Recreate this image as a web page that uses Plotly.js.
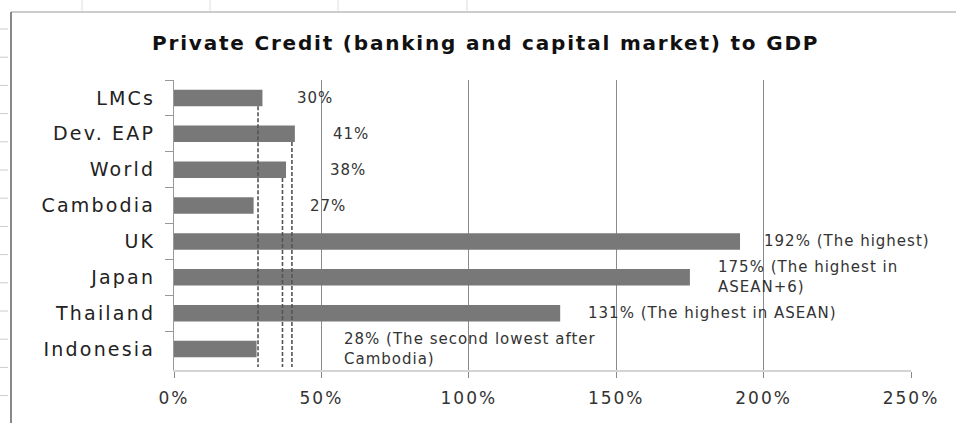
<!DOCTYPE html>
<html>
<head>
<meta charset="utf-8">
<script src="https://cdn.plot.ly/plotly-3.0.1.min.js"></script>
<style>
html,body{margin:0;padding:0;background:#fff;}
#chart{width:956px;height:423px;}
#chart .ytick text{letter-spacing:2.2px;}
#chart .xtick text{letter-spacing:2px;}
#chart .annotation-text{letter-spacing:1px;}
#chart .gtitle{letter-spacing:1.8px;}
</style>
</head>
<body>
<div id="chart"></div>
<script>
// Data
const categories = ["LMCs", "Dev. EAP", "World", "Cambodia", "UK", "Japan", "Thailand", "Indonesia"];
const values = [30, 41, 38, 27, 192, 175, 131, 28];
const labelTexts = [
  "30%",
  "41%",
  "38%",
  "27%",
  "192% (The highest)",
  "175% (The highest in<br>ASEAN+6)",
  "131% (The highest in ASEAN)",
  "28% (The second lowest after<br>Cambodia)"
];
const xTickVals = [0, 50, 100, 150, 200, 250];
const xTickText = ["0%", "50%", "100%", "150%", "200%", "250%"];
// Dashed reference lines: value and the category whose bar they start below
const refLineValues = [28.5, 36.8, 40];
const refLineStart = ["LMCs", "World", "Dev. EAP"];

// Styles
const labelShift = [33, 36, 42, 54, 22, 26, 26, 85];
const barWidth = 0.46;
const FONT = "DejaVu Sans, Verdana, sans-serif";

const shapes = [];
refLineValues.forEach((v, i) => {
  const idx = categories.indexOf(refLineStart[i]);
  shapes.push({
    type: "line", xref: "x", yref: "y",
    x0: v, x1: v, y0: idx + barWidth / 2, y1: categories.length - 0.5,
    line: {color: "#555", width: 1.6, dash: "4px,2px"}, layer: "above"
  });
});
// outer frame (spreadsheet chart border)
const plotL = 174, plotR = 911, plotT = 80, plotB = 370;
const px = x => (x - plotL) / (plotR - plotL);
const py = y => (plotB - y) / (plotB - plotT);
shapes.push({type: "line", xref: "paper", yref: "paper", x0: px(11), x1: px(956), y0: py(12), y1: py(12), line: {color: "#bbb", width: 1.5}});
shapes.push({type: "line", xref: "paper", yref: "paper", x0: px(11), x1: px(11), y0: py(12), y1: py(423), line: {color: "#888", width: 2}});
for (let y = 29; y < 423; y += 28.2) {
  shapes.push({type: "line", xref: "paper", yref: "paper", x0: px(0), x1: px(8), y0: py(y), y1: py(y), line: {color: "#ccc", width: 1}});
}
[82, 210, 338, 467].forEach(x => {
  shapes.push({type: "line", xref: "paper", yref: "paper", x0: px(x), x1: px(x), y0: py(0), y1: py(11), line: {color: "#ddd", width: 1}});
});

const annotations = categories.map((c, i) => ({
  x: values[i], y: c, xref: "x", yref: "y",
  text: labelTexts[i], showarrow: false,
  xanchor: "left", yanchor: "middle", align: "left",
  xshift: labelShift[i],
  font: {family: FONT, size: 15, color: "#333"}
}));

const trace = {
  type: "bar", orientation: "h",
  x: values, y: categories,
  width: barWidth,
  marker: {color: "#787878"},
  hoverinfo: "none"
};

const layout = {
  width: 956, height: 423,
  margin: {l: plotL, r: 956 - plotR, t: plotT, b: 423 - plotB},
  paper_bgcolor: "#fff", plot_bgcolor: "#fff",
  showlegend: false,
  title: {
    text: "<b>Private Credit (banking and capital market) to GDP</b>",
    font: {family: FONT, size: 20, color: "#111"},
    x: 0.508, xref: "container", xanchor: "center",
    y: 1, yref: "container", yanchor: "top", pad: {t: 36}
  },
  xaxis: {
    range: [0, 250], tickvals: xTickVals, ticktext: xTickText,
    showgrid: true, gridcolor: "#8a8a8a", gridwidth: 1,
    zeroline: false, showline: true, linecolor: "#d4d4d4", linewidth: 2,
    ticks: "outside", ticklen: 6, tickcolor: "#8a8a8a",
    ticklabelstandoff: 6,
    tickfont: {family: FONT, size: 17, color: "#333"},
    fixedrange: true
  },
  yaxis: {
    type: "category", categoryorder: "array", categoryarray: categories,
    autorange: "reversed",
    showline: true, linecolor: "#999", linewidth: 1,
    ticks: "outside", tickson: "boundaries", ticklen: 8, tickcolor: "#999",
    showgrid: false, zeroline: false,
    ticklabelstandoff: 14,
    tickfont: {family: FONT, size: 19, color: "#222"},
    fixedrange: true
  },
  shapes: shapes,
  annotations: annotations,
  bargap: 0.5
};

Plotly.newPlot("chart", [trace], layout, {displayModeBar: false, staticPlot: true});
</script>
</body>
</html>
